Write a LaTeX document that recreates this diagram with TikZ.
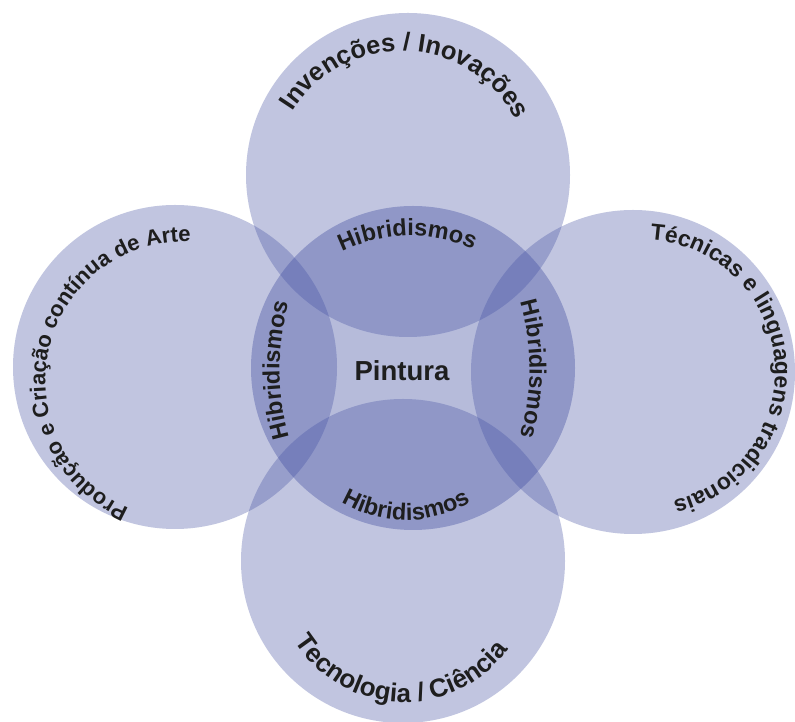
\documentclass[tikz,border=0pt]{standalone}
\usepackage{fontspec}
\setmainfont{Liberation Sans}
\usetikzlibrary{calc, decorations.text}

\definecolor{venn}{RGB}{67,80,162}
\definecolor{ink}{RGB}{30,30,30}

\newcommand\labsize{24}
\newcommand\labfont{\bfseries\fontsize{\labsize}{\labsize}\selectfont}
% curved label: centre, radius, start angle, end angle, font size, text
\newcommand\arclabel[6]{%
  \renewcommand\labsize{#5}%
  \path[decorate, decoration={text along path, text align=center, text color=ink,
      text={|\labfont|#6}}]
    ($(#1)+(#3:#2)$) arc[start angle=#3, end angle=#4, radius=#2];}

\begin{document}
\begin{tikzpicture}[x=1pt, y=1pt,
    ring/.style={circle, minimum size=324pt, inner sep=0pt, fill=venn, fill opacity=.33}]
    \fill[white] (0,0) rectangle (795,722);
    \useasboundingbox (0,0) rectangle (795,722);

    \node[ring] (top) at (408,547) {};
    \node[ring] (left) at (175,355) {};
    \node[ring] (right) at (633,350) {};
    \node[ring] (bottom) at (403,161) {};
    \node[ring, fill opacity=.39] (core) at (413,354) {};

    \coordinate (topT) at (402,542);
    \coordinate (leftT) at (185,341);
    \coordinate (rightT) at (643,350);
    \coordinate (bottomT) at (404,149);
    \coordinate (hibN) at (410,332);
    \coordinate (hibS) at (406,330);
    \coordinate (hibW) at (521,352);
    \coordinate (hibE) at (288,353);

    \arclabel{topT}{129}{168}{8}{25.5}{Invenções / Inovações}
    \arclabel{leftT}{139.5}{262}{72}{22}{Produção e Criação contínua de Arte}
    \arclabel{rightT}{132}{100}{-90}{22.8}{Técnicas e linguagens tradicionais}
    \arclabel{bottomT}{129}{188}{348}{26}{Tecnologia / Ciência}

    \arclabel{hibN}{154}{151}{31}{23.5}{Hibridismos}
    \arclabel{hibS}{128}{210}{330}{23.5}{Hibridismos}
    \arclabel{hibW}{241.5}{205}{155}{23.5}{Hibridismos}
    \arclabel{hibE}{241.5}{25}{-25}{23.5}{Hibridismos}

    \node[text=ink, font=\bfseries\fontsize{27.5}{27.5}\selectfont] (pintura) at (402,351) {Pintura};
\end{tikzpicture}
\end{document}
